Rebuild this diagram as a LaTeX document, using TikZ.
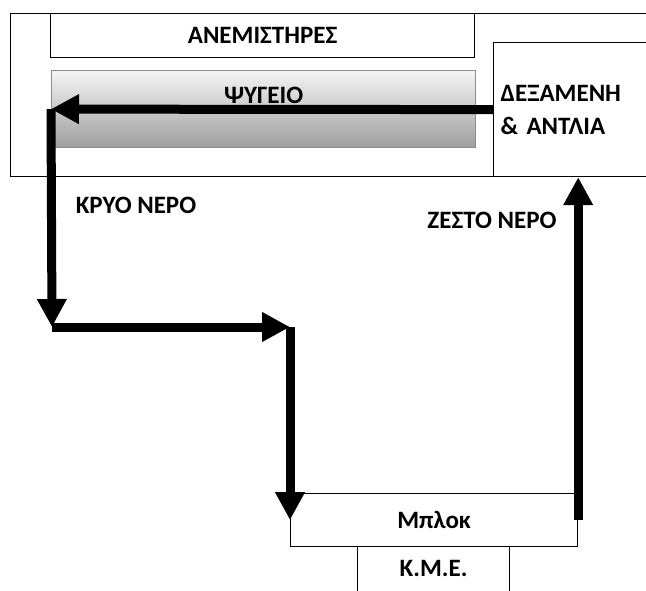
\documentclass[tikz,border=0pt]{standalone}
\usepackage{fontspec}
\setmainfont{Carlito}
\usepackage{tikz}
\usetikzlibrary{positioning, arrows.meta, calc}

\begin{document}
\begin{tikzpicture}[x=1pt, y=-1pt,
    box/.style={draw, line width=1.2pt, inner sep=0pt},
    lbl/.style={font=\bfseries\fontsize{25}{33}\selectfont},
    flow/.style={line width=9pt, -{Triangle[length=28pt, width=28pt]}},
]
\clip (0,0) rectangle (646,590);

% Components
\node[box, anchor=north west, minimum width=700pt, minimum height=163pt] (kelyfos) at (10,13) {};
\node[box, lbl, anchor=north west, minimum width=424pt, minimum height=44pt] (anem) at (50,13) {ΑΝΕΜΙΣΤΗΡΕΣ};
\node[box, anchor=north west, minimum width=424pt, minimum height=77pt,
      draw=black!45, top color=gray!8, middle color=gray!30, bottom color=gray!76] (psygeio) at (51,70) {};
\node[lbl] (psygeio-titlos) at ($(psygeio.north)+(0,25)$) {ΨΥΓΕΙΟ};
\node[box, lbl, anchor=north west, minimum width=207pt, minimum height=134pt,
      text width=193pt, inner xsep=7pt, align=left] (dexameni) at (493,42) {ΔΕΞΑΜΕΝΗ\\\&~ΑΝΤΛΙΑ};

\node[box, lbl, anchor=north west, minimum width=287pt, minimum height=53pt] (blok) at (290,493) {Μπλοκ};
\node[box, anchor=north west, minimum width=152pt, minimum height=60pt] (kme) at (357,546) {};
\node[lbl] (kme-titlos) at ($(kme.north)+(0,22)$) {Κ.Μ.Ε.};

% Labels
\node[lbl] (kryo) at (136,205) {ΚΡΥΟ ΝΕΡΟ};
\node[lbl] (zesto) at (492,220) {ΖΕΣΤΟ ΝΕΡΟ};

% Connections
\coordinate (strofi) at (52,327);
\draw[flow] (dexameni.west) -- (psygeio.west);
\draw[flow] (psygeio.west) -- (strofi);
\draw[flow] (strofi) -- (strofi -| blok.west);
\draw[flow] (strofi -| blok.west) -- (blok.west);
\draw[flow] (blok.east) -- (blok.east |- dexameni.south);

\end{tikzpicture}
\end{document}
